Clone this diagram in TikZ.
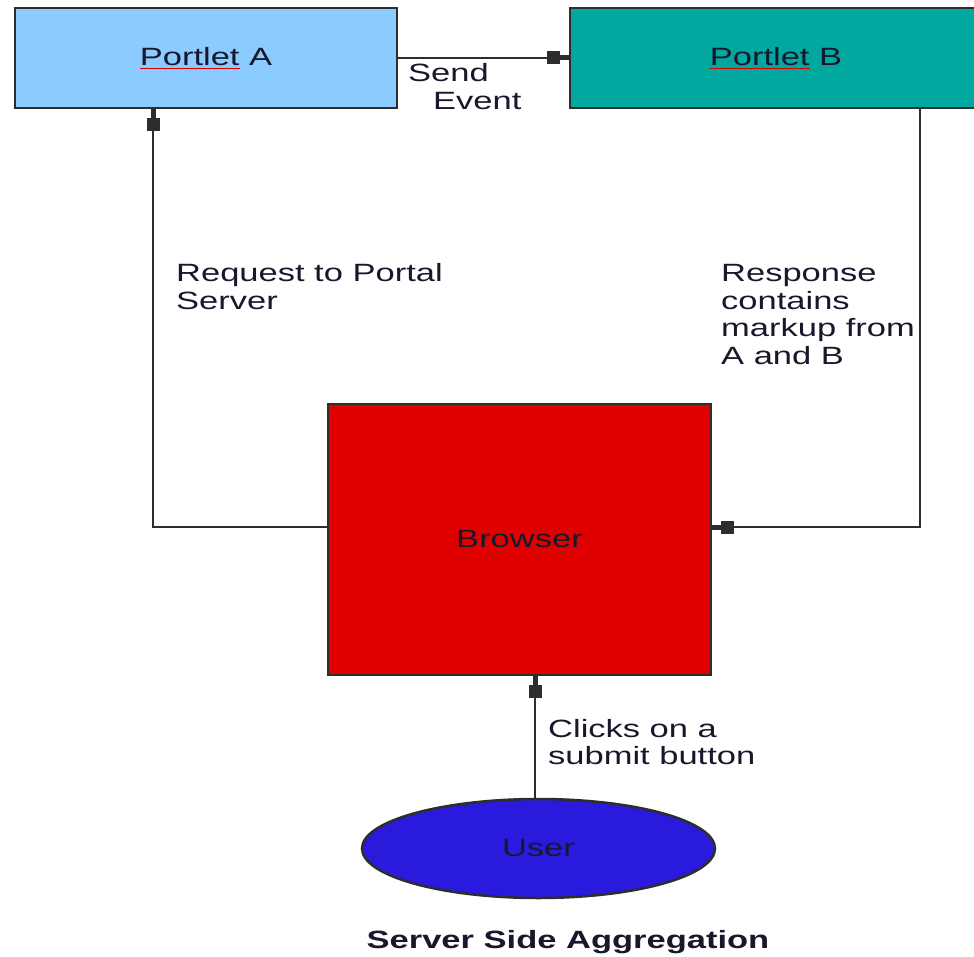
\documentclass[tikz,border=0pt]{standalone}
\usepackage{fontspec}
\setmainfont{Liberation Sans}[FakeStretch=1.38]
\usetikzlibrary{arrows.meta,shapes.geometric}
\definecolor{pAcol}{RGB}{140,203,255}
\definecolor{pBcol}{RGB}{0,168,160}
\definecolor{brcol}{RGB}{224,0,0}
\definecolor{uscol}{RGB}{42,26,222}
\definecolor{txtcol}{RGB}{24,24,44}
\definecolor{linecol}{RGB}{45,45,45}
\newcommand\spellul[1]{\setbox0=\hbox{#1}\rlap{\color{red!85!black}\rule[-4pt]{\wd0}{1.3pt}}\box0\relax}
\newcommand\lines[1]{\begin{tabular}[t]{@{}l@{}}#1\end{tabular}}
\tikzset{
  boxnode/.style={draw=linecol, line width=2.5pt, inner sep=0pt, text=txtcol,
    font=\fontsize{25}{27.5}\selectfont},
  conn/.style={draw=linecol, line width=2pt,
    -{Rectangle[length=13pt,width=13pt]Rectangle[length=9pt,width=5pt]}},
  lbl/.style={inner sep=0pt, text=txtcol, anchor=base west,
    font=\fontsize{25}{27.5}\selectfont},
}
\begin{document}
\begin{tikzpicture}[x=1pt,y=-1pt]
\useasboundingbox (0,0) rectangle (974,957);
% boxes
\node[boxnode, fill=pAcol, minimum width=382pt, minimum height=100pt] (pa) at (206,58) {\spellul{Portlet} A};
\node[boxnode, fill=pBcol, minimum width=412pt, minimum height=100pt] (pb) at (776,58) {\spellul{Portlet} B};
\node[boxnode, fill=brcol, minimum width=383pt, minimum height=271pt] (br) at (519.5,539.5) {Browser};
\node[boxnode, ellipse, fill=uscol, minimum width=353pt, minimum height=99pt] (us) at (538.5,848.5) {User};
% connectors
\draw[conn] (pa.east) -- (pb.west);
\draw[conn] ([yshift=12.5pt]br.west) -| ([xshift=-53pt]pa.south);
\draw[conn] ([xshift=144pt]pb.south) |- ([yshift=12.5pt]br.east);
\draw[conn] ([xshift=-3.5pt]us.north) -- ([xshift=-3.5pt]us.north |- br.south);
% labels
\node[lbl] (lsend) at (408,82) {\lines{Send\\\hspace*{25pt}Event}};
\node[lbl] (lreq) at (176,282) {\lines{Request to Portal\\Server}};
\node[lbl] (lresp) at (721,282) {\lines{Response\\contains\\markup from\\A and B}};
\node[lbl] (lclick) at (548,737) {\lines{Clicks on a\\submit button}};
\node[inner sep=0pt, text=txtcol, anchor=base, font=\fontsize{25}{27.5}\selectfont\bfseries] (title) at (568,948) {Server Side Aggregation};
\end{tikzpicture}
\end{document}
